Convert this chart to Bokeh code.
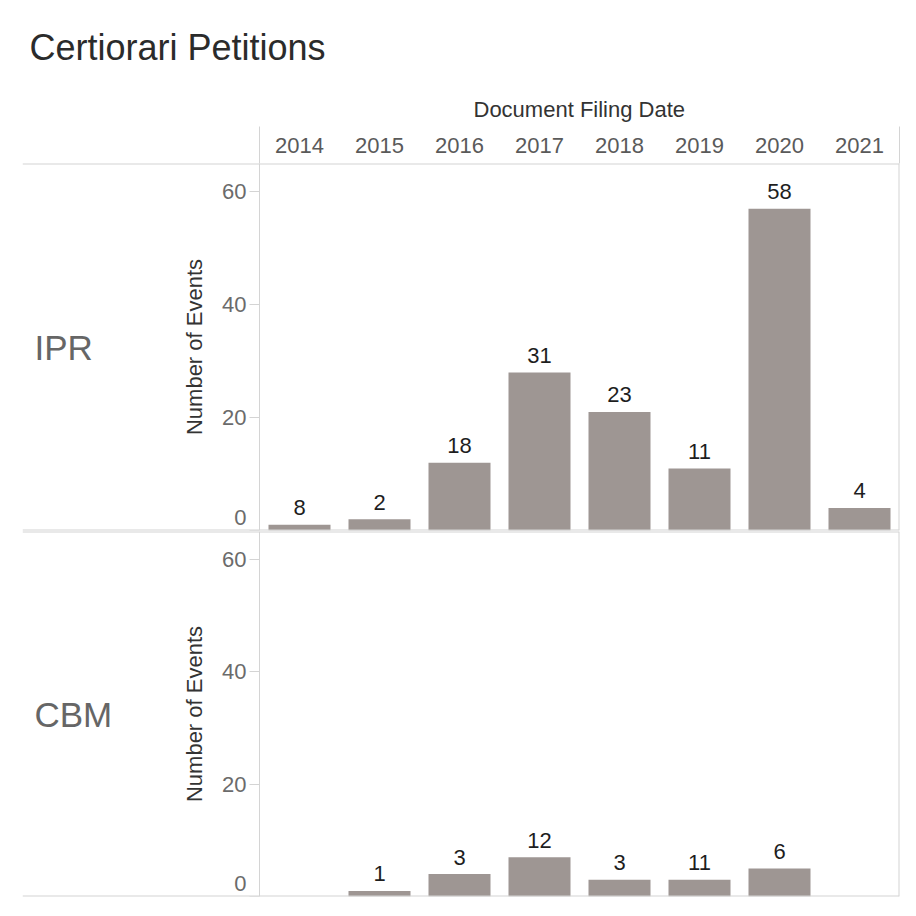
from bokeh.plotting import figure
from bokeh.models import Range1d, Label, Span, FixedTicker, ColumnDataSource, Title
from bokeh.layouts import column
from bokeh.embed import file_html
from bokeh.resources import INLINE
from bokeh.core.properties import value

# ---------------- data ----------------
years = ["2014", "2015", "2016", "2017", "2018", "2019", "2020", "2021"]

ipr_years = ["2014", "2015", "2016", "2017", "2018", "2019", "2020", "2021"]
ipr_bars = [1, 2, 12, 28, 21, 11, 57, 4]
ipr_labels = ["8", "2", "18", "31", "23", "11", "58", "4"]

cbm_years = ["2015", "2016", "2017", "2018", "2019", "2020"]
cbm_bars = [1, 4, 7, 3, 3, 5]
cbm_labels = ["1", "3", "12", "3", "11", "6"]

y_ticks = [0, 20, 40, 60]
Y_MAX = 65

title_text = "Certiorari Petitions"
x_title = "Document Filing Date"
y_title = "Number of Events"

# ---------------- style / layout ----------------
FONT = "Liberation Sans"
LINE = "#d4d4d4"
BAR = "#9e9693"
TICK_TXT = "#6b6b6b"
DARK = "#333333"

W = 908
LEFT = 22          # table starts here
RIGHT = 9
HEADER_COL = 237   # width of the row-header column in px
COL_W = 80         # px per year column
X_START = -HEADER_COL / COL_W
X_END = len(years)


def pos(cats):
    return [years.index(c) + 0.5 for c in cats]


def make_panel(height, top, bottom, bar_years, bars, labels, row_label, header):
    p = figure(width=W, height=height,
               x_range=Range1d(X_START, X_END), y_range=Range1d(0, Y_MAX),
               output_backend="svg", toolbar_location=None,
               x_axis_location="above" if header else None,
               min_border_left=LEFT, min_border_right=RIGHT,
               min_border_top=top, min_border_bottom=bottom)
    p.background_fill_color = "white"
    p.border_fill_color = "white"
    p.outline_line_color = None
    p.grid.visible = False

    # y axis drawn at the start of the year columns
    ax = p.yaxis[0]
    ax.fixed_location = 0
    ax.ticker = FixedTicker(ticks=y_ticks)
    ax.major_label_overrides = {0: ""}
    ax.axis_line_color = LINE
    ax.major_tick_out = 10
    ax.major_tick_in = 0
    ax.major_tick_line_color = LINE
    ax.minor_tick_line_color = None
    ax.major_label_standoff = 3
    ax.major_label_text_font = FONT
    ax.major_label_text_font_size = "22px"
    ax.major_label_text_color = TICK_TXT
    ax.axis_label = y_title
    ax.axis_label_text_font = FONT
    ax.axis_label_text_font_size = "22px"
    ax.axis_label_text_font_style = "normal"
    ax.axis_label_text_color = DARK
    ax.axis_label_standoff = 12

    p.add_layout(Label(x=0, y=0, x_offset=-13, y_offset=13, text="0",
                       text_align="right", text_baseline="middle",
                       text_font=FONT, text_font_size="22px", text_color=TICK_TXT))

    # table rules
    p.add_layout(Span(location=0, dimension="width", line_color=LINE, line_width=2))
    p.add_layout(Span(location=Y_MAX, dimension="width", line_color=LINE, line_width=2))
    p.add_layout(Span(location=X_END, dimension="height", line_color=LINE, line_width=2))

    if header:
        xa = p.xaxis[0]
        xa.ticker = FixedTicker(ticks=pos(years), minor_ticks=[0, X_END])
        xa.major_label_overrides = {t: y for t, y in zip(pos(years), years)}
        xa.axis_line_color = None
        xa.major_tick_line_color = None
        xa.major_tick_out = 0
        xa.major_tick_in = 0
        xa.minor_tick_out = 37
        xa.minor_tick_in = 0
        xa.minor_tick_line_color = LINE
        xa.major_label_standoff = -26
        xa.major_label_text_font = FONT
        xa.major_label_text_font_size = "22px"
        xa.major_label_text_color = "#5a5a5a"

        p.add_layout(Title(text=x_title, align="left", offset=451, standoff=25,
                           text_font=FONT, text_font_size="22px", text_font_style="normal",
                           text_color=DARK), "above")
        p.add_layout(Title(text=title_text, align="left", offset=7, standoff=30,
                           text_font=FONT, text_font_size="36px", text_font_style="normal",
                           text_color="#2b2b2b"), "above")

    src = ColumnDataSource(dict(x=pos(bar_years), top=bars, label=labels))
    p.vbar(x="x", top="top", width=0.775, source=src, fill_color=BAR, line_color=None)
    p.text(x="x", y="top", text="label", source=src,
           text_font=value(FONT), text_font_size="22px", text_color="#1e1e1e",
           text_align="center", text_baseline="alphabetic", y_offset=-17)

    # row header text
    p.add_layout(Label(x=X_START, y=Y_MAX / 2, x_offset=12, text=row_label,
                       text_align="left", text_baseline="middle",
                       text_font=FONT, text_font_size="35px", text_color="#666666"))
    return p


p1 = make_panel(531, 163, 1, ipr_years, ipr_bars, ipr_labels, "IPR", True)
p2 = make_panel(367, 0, 2, cbm_years, cbm_bars, cbm_labels, "CBM", False)

p = column(p1, p2, spacing=0)
open("out.html", "w").write(file_html(p, INLINE))
